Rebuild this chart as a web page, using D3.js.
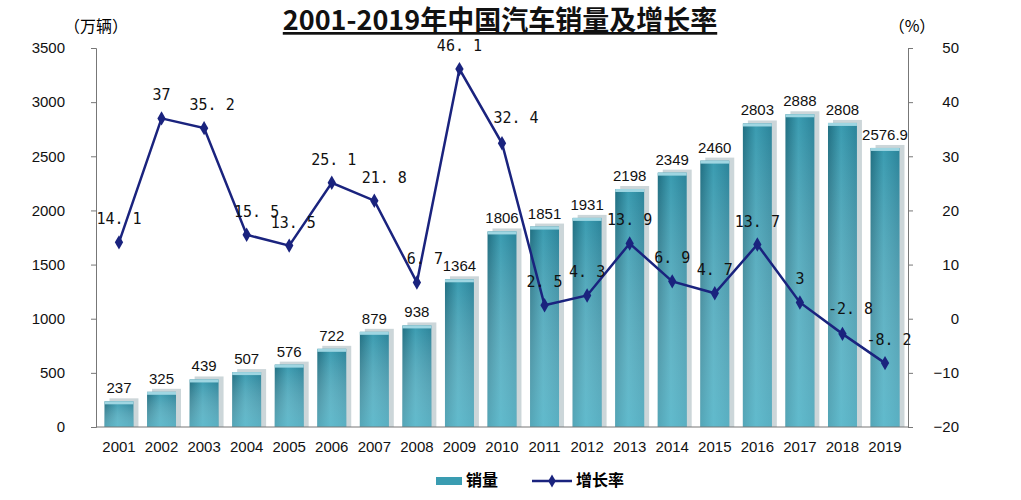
<!DOCTYPE html>
<html><head><meta charset="utf-8">
<script src="https://cdn.jsdelivr.net/npm/d3@7"></script>
<style>body{margin:0;background:#fff;font-family:"Liberation Sans",Arial,sans-serif}</style>
</head><body><div id="chart"></div>
<script>
var years = ["2001","2002","2003","2004","2005","2006","2007","2008","2009","2010","2011","2012","2013","2014","2015","2016","2017","2018","2019"];
var sales = [237,325,439,507,576,722,879,938,1364,1806,1851,1931,2198,2349,2460,2803,2888,2808,2576.9];
var growth = [14.1,37,35.2,15.5,13.5,25.1,21.8,6.7,46.1,32.4,2.5,4.3,13.9,6.9,4.7,13.7,3,-2.8,-8.2];
var leftTicks = [0,500,1000,1500,2000,2500,3000,3500];
var rightTicks = [-20,-10,0,10,20,30,40,50];

var W = 1021, H = 500, mLeft = 96, mRight = 908, mTop = 48, mBottom = 427;
var svg = d3.select("#chart").append("svg").attr("width", W).attr("height", H);

var defs = svg.append("defs");
var g1 = defs.append("linearGradient").attr("id","bar").attr("x1",0).attr("x2",1).attr("y1",0).attr("y2",0);
g1.append("stop").attr("offset","0%").attr("stop-color","#1f6f82");
g1.append("stop").attr("offset","45%").attr("stop-color","#3a9cb1");
g1.append("stop").attr("offset","100%").attr("stop-color","#2a8399");
var g2 = defs.append("linearGradient").attr("id","barv").attr("x1",0).attr("x2",0).attr("y1",0).attr("y2",1);
g2.append("stop").attr("offset","0%").attr("stop-color","#fff").attr("stop-opacity",0);
g2.append("stop").attr("offset","100%").attr("stop-color","#7fd3e3").attr("stop-opacity",0.55);

var x = d3.scaleBand().domain(years).range([mLeft, mRight]).paddingInner(0.32).paddingOuter(0.2);
var yL = d3.scaleLinear().domain([0,3500]).range([mBottom, mTop]);
var yR = d3.scaleLinear().domain([-20,50]).range([mBottom, mTop]);

// shadow
svg.append("g").selectAll("rect").data(years).join("rect")
  .attr("x", d => x(d) + 5).attr("width", x.bandwidth())
  .attr("y", (d,i) => yL(sales[i]) - 3).attr("height", (d,i) => mBottom - yL(sales[i]) + 3)
  .attr("fill", "#ccd6d9");
var bars = svg.append("g");
bars.selectAll("rect.b").data(years).join("rect").attr("class","b")
  .attr("x", d => x(d)).attr("width", x.bandwidth())
  .attr("y", (d,i) => yL(sales[i])).attr("height", (d,i) => mBottom - yL(sales[i]))
  .attr("fill", "url(#bar)");
bars.selectAll("rect.v").data(years).join("rect").attr("class","v")
  .attr("x", d => x(d)).attr("width", x.bandwidth())
  .attr("y", (d,i) => yL(sales[i])).attr("height", (d,i) => mBottom - yL(sales[i]))
  .attr("fill", "url(#barv)");
bars.selectAll("rect.t").data(years).join("rect").attr("class","t")
  .attr("x", d => x(d)).attr("width", x.bandwidth())
  .attr("y", (d,i) => yL(sales[i])).attr("height", 3).attr("fill", "#9fd6e2");

var axL = svg.append("g").attr("transform", `translate(${mLeft},0)`)
  .call(d3.axisLeft(yL).tickValues(leftTicks).tickFormat(d3.format("d")).tickSize(5).tickPadding(26));
var axR = svg.append("g").attr("transform", `translate(${mRight},0)`)
  .call(d3.axisRight(yR).tickValues(rightTicks).tickSize(5).tickPadding(20));
var axB = svg.append("g").attr("transform", `translate(0,${mBottom})`)
  .call(d3.axisBottom(x).tickSize(0).tickPadding(14));
axB.select(".domain").attr("d", `M${mLeft},0H${mRight}`);
[axL, axR, axB].forEach(a => {
  a.selectAll("text").attr("font-size", 15).attr("fill", "#111").attr("font-family", "Liberation Sans, Arial");
  a.selectAll("path,line").attr("stroke", "#777");
});
axR.selectAll(".tick text").attr("text-anchor", "end").attr("dx", 26);

// bar labels
svg.append("g").selectAll("text").data(years).join("text")
  .attr("x", d => x(d) + x.bandwidth()/2).attr("y", (d,i) => yL(sales[i]) - 8)
  .attr("text-anchor", "middle").attr("font-size", 15).attr("fill", "#111")
  .text((d,i) => sales[i]);

// growth line
var line = d3.line().x((d,i) => x(years[i]) + x.bandwidth()/2).y(d => yR(d));
svg.append("path").datum(growth).attr("d", line).attr("fill", "none")
  .attr("stroke", "#1a237e").attr("stroke-width", 2.5);
svg.append("g").selectAll("path").data(growth).join("path")
  .attr("d", d3.symbol(d3.symbolDiamond, 60))
  .attr("transform", (d,i) => `translate(${x(years[i]) + x.bandwidth()/2},${yR(d)})`)
  .attr("fill", "#1a237e");
var gOff = [[0,-18],[0,-18],[8,-18],[10,-18],[4,-18],[2,-18],[10,-18],[8,-18],[0,-18],[14,-20],[0,-18],[0,-18],[0,-18],[0,-18],[0,-18],[0,-18],[0,-18],[8,-20],[4,-18]];
svg.append("g").selectAll("text").data(growth).join("text")
  .attr("x", (d,i) => x(years[i]) + x.bandwidth()/2 + gOff[i][0]).attr("y", (d,i) => yR(d) + gOff[i][1])
  .attr("text-anchor", "middle").attr("font-size", 15).attr("fill", "#111")
  .attr("font-family", "DejaVu Sans Mono, monospace")
  .text(d => String(d).replace(".", ". "));

// titles
svg.append("text").attr("x", 500).attr("y", 30).attr("text-anchor", "middle")
  .attr("font-size", 27).attr("font-weight", "bold").attr("fill", "#111")
  .attr("font-family", "Noto Sans CJK SC, sans-serif").attr("text-decoration", "underline")
  .text("2001-2019年中国汽车销量及增长率");
svg.append("text").attr("x", 96).attr("y", 32).attr("text-anchor", "middle")
  .attr("font-size", 16).attr("font-family", "Noto Sans CJK SC, sans-serif").text("（万辆）");
svg.append("text").attr("x", 912).attr("y", 32).attr("text-anchor", "middle")
  .attr("font-size", 16).attr("font-family", "Noto Sans CJK SC, sans-serif").text("（%）");

// legend
var lg = svg.append("g").attr("transform", "translate(436,486)");
lg.append("rect").attr("x", 0).attr("y", -9).attr("width", 26).attr("height", 8).attr("fill", "#3a9cb1");
lg.append("text").attr("x", 30).attr("y", 0).attr("font-size", 16).attr("font-weight", "bold")
  .attr("font-family", "Noto Sans CJK SC, sans-serif").text("销量");
lg.append("line").attr("x1", 96).attr("x2", 136).attr("y1", -5).attr("y2", -5).attr("stroke", "#1a237e").attr("stroke-width", 2.5);
lg.append("path").attr("d", d3.symbol(d3.symbolDiamond, 50)).attr("transform", "translate(116,-5)").attr("fill", "#1a237e");
lg.append("text").attr("x", 140).attr("y", 0).attr("font-size", 16).attr("font-weight", "bold")
  .attr("font-family", "Noto Sans CJK SC, sans-serif").text("增长率");
</script></body></html>
